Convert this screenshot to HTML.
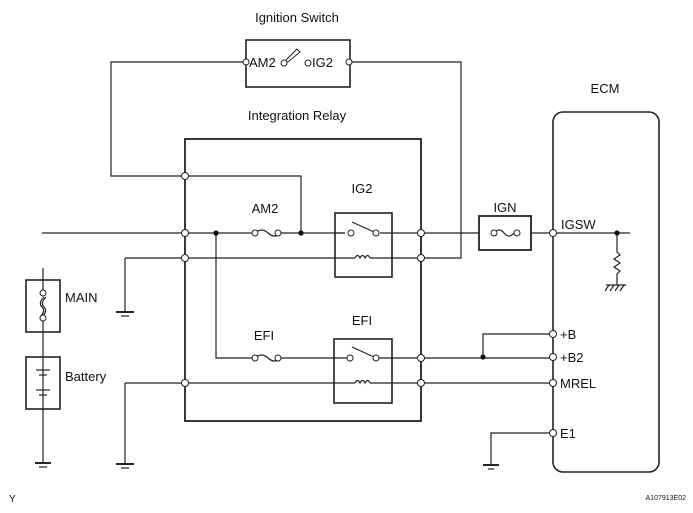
<!DOCTYPE html>
<html><head><style>
body{margin:0;background:#fff;}
svg{display:block;}
text{font-family:"Liberation Sans",Arial,sans-serif;fill:#111;}
</style></head><body>
<svg width="693" height="513" viewBox="0 0 693 513" xmlns="http://www.w3.org/2000/svg">
<g stroke="#222" stroke-width="1.2" fill="none">
<rect x="246" y="40" width="104" height="47" stroke-width="1.6"/>
<polyline points="246,62 111,62 111,176 301,176 301,233"/>
<polyline points="350,62 461,62 461,258 421,258"/>
<polygon points="285,61 297,49 300,52 288,62" stroke-width="1"/>
<rect x="185" y="139" width="236" height="282" stroke-width="1.8"/>
<line x1="42" y1="233" x2="252" y2="233"/>
<line x1="279" y1="233" x2="345" y2="233"/>
<line x1="380" y1="233" x2="479" y2="233"/>
<line x1="531" y1="233" x2="630" y2="233"/>
<line x1="345" y1="233" x2="335" y2="233"/>
<path d="M255,233 q6.5,-6 13,0 q6.5,6 13,0"/>
<rect x="335" y="213" width="57" height="64" stroke-width="1.6"/>
<line x1="352" y1="222" x2="374" y2="232"/>
<line x1="125" y1="258" x2="355" y2="258"/><line x1="370" y1="258" x2="421" y2="258"/>
<path d="M355,258 q2.5,-5 5,0 q2.5,-5 5,0 q2.5,-5 5,0"/>
<line x1="125" y1="258" x2="125" y2="312"/>
<line x1="116" y1="312" x2="134" y2="312" stroke-width="2"/><line x1="121" y1="316" x2="129" y2="316"/>
<polyline points="216,233 216,358 252,358"/>
<path d="M255,358 q6.5,-6 13,0 q6.5,6 13,0"/>
<line x1="279" y1="358" x2="349" y2="358"/>
<line x1="376" y1="358" x2="553" y2="358"/>
<rect x="334" y="339" width="58" height="64" stroke-width="1.6"/>
<line x1="352" y1="347" x2="374" y2="357"/>
<line x1="125" y1="383" x2="355" y2="383"/><line x1="370" y1="383" x2="553" y2="383"/>
<path d="M355,383 q2.5,-5 5,0 q2.5,-5 5,0 q2.5,-5 5,0"/>
<line x1="125" y1="383" x2="125" y2="464"/>
<line x1="116" y1="464" x2="134" y2="464" stroke-width="2"/><line x1="121" y1="468" x2="129" y2="468"/>
<rect x="479" y="216" width="52" height="34" stroke-width="1.8"/>
<path d="M494,233 q5,-6 10,0 q5,6 10,0"/>
<rect x="553" y="112" width="106" height="360" rx="10" stroke-width="1.6"/>
<polyline points="617,233 617,252 620,255 614,259 620,263 614,267 620,271 617,274 617,285"/>
<line x1="606" y1="285" x2="626" y2="285"/>
<line x1="609" y1="285" x2="605" y2="291"/><line x1="614" y1="285" x2="610" y2="291"/><line x1="619" y1="285" x2="615" y2="291"/><line x1="624" y1="285" x2="620" y2="291"/>
<polyline points="553,334 483,334 483,357"/>
<polyline points="553,433 491,433 491,465"/>
<line x1="483" y1="465" x2="499" y2="465" stroke-width="2"/><line x1="488" y1="469" x2="494" y2="469"/>
<line x1="43" y1="268" x2="43" y2="463"/>
<rect x="26" y="280" width="34" height="52" stroke-width="1.6" fill="#fff"/>
<rect x="26" y="357" width="34" height="52" stroke-width="1.6" fill="#fff"/>
<line x1="43" y1="280" x2="43" y2="293"/><line x1="43" y1="317" x2="43" y2="332"/>
<path d="M44,297 q-6,6 -2,10 q4,4 -2,10 M46,297 q-6,6 -2,10 q4,4 -2,10"/>
<line x1="43" y1="357" x2="43" y2="409"/>
<line x1="36" y1="370" x2="50" y2="370"/><line x1="39" y1="375" x2="47" y2="375"/>
<line x1="36" y1="390" x2="50" y2="390"/><line x1="39" y1="395" x2="47" y2="395"/>
<line x1="35" y1="463" x2="51" y2="463" stroke-width="2"/><line x1="39" y1="467" x2="47" y2="467"/>
</g>
<g fill="#fff" stroke="#222" stroke-width="1">
<circle cx="246" cy="62" r="3"/><circle cx="349" cy="62" r="3"/>
<circle cx="284" cy="63" r="3"/><circle cx="308" cy="63" r="3"/>
<circle cx="185" cy="176" r="3.5"/><circle cx="185" cy="233" r="3.5"/><circle cx="185" cy="258" r="3.5"/><circle cx="185" cy="383" r="3.5"/>
<circle cx="421" cy="233" r="3.5"/><circle cx="421" cy="258" r="3.5"/><circle cx="421" cy="358" r="3.5"/><circle cx="421" cy="383" r="3.5"/>
<circle cx="255" cy="233" r="3"/><circle cx="278" cy="233" r="3"/>
<circle cx="255" cy="358" r="3"/><circle cx="278" cy="358" r="3"/>
<circle cx="351" cy="233" r="3"/><circle cx="376" cy="233" r="3"/>
<circle cx="350" cy="358" r="3"/><circle cx="376" cy="358" r="3"/>
<circle cx="494" cy="233" r="3"/><circle cx="517" cy="233" r="3"/>
<circle cx="553" cy="233" r="3.5"/><circle cx="553" cy="334" r="3.5"/><circle cx="553" cy="357" r="3.5"/><circle cx="553" cy="383" r="3.5"/><circle cx="553" cy="433" r="3.5"/>
<circle cx="43" cy="293" r="3"/><circle cx="43" cy="318" r="3"/>
</g>
<g fill="#111">
<circle cx="216" cy="233" r="2.6"/><circle cx="301" cy="233" r="2.6"/><circle cx="617" cy="233" r="2.6"/><circle cx="483" cy="357" r="2.6"/>
</g>
<g font-size="13">
<text x="297" y="22" text-anchor="middle">Ignition Switch</text>
<text x="249" y="67">AM2</text><text x="312" y="67">IG2</text>
<text x="297" y="120" text-anchor="middle">Integration Relay</text>
<text x="265" y="213" text-anchor="middle">AM2</text>
<text x="362" y="193" text-anchor="middle">IG2</text>
<text x="505" y="212" text-anchor="middle">IGN</text>
<text x="605" y="93" text-anchor="middle">ECM</text>
<text x="561" y="229">IGSW</text>
<text x="560" y="339">+B</text><text x="560" y="362">+B2</text>
<text x="560" y="388">MREL</text><text x="560" y="438">E1</text>
<text x="264" y="340" text-anchor="middle">EFI</text>
<text x="362" y="325" text-anchor="middle">EFI</text>
<text x="65" y="302">MAIN</text><text x="65" y="381">Battery</text>
<text x="9" y="502" font-size="10">Y</text>
<text x="686" y="500" font-size="7" text-anchor="end">A107913E02</text>
</g>
</svg>
</body></html>
